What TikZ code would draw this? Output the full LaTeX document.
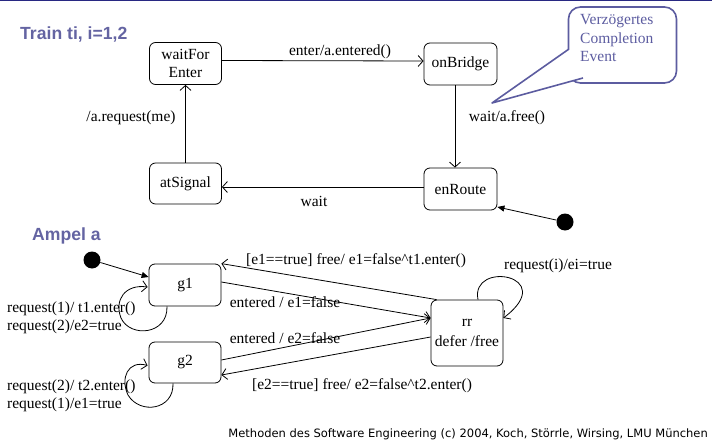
\documentclass[tikz,border=0pt]{standalone}
\usepackage{fontspec}
\setmainfont{Liberation Serif}
\newfontfamily\titlefont{Liberation Sans}
\newfontfamily\footfont{DejaVu Sans}
\usetikzlibrary{arrows.meta}
\definecolor{titlecol}{RGB}{100,100,162}
\definecolor{notecol}{RGB}{92,92,160}
\definecolor{topline}{RGB}{40,40,130}
\tikzset{
  statebox/.style={draw, rounded corners=6pt, line width=0.8pt, align=center, inner sep=0pt, font=\fontsize{15.5}{18}\selectfont},
  lbl/.style={inner sep=0pt, font=\fontsize{15.5}{18}\selectfont},
  lblleft/.style={lbl, anchor=west, align=left},
  trans/.style={line width=0.8pt, -{Straight Barb[length=5pt,width=11pt,line width=0.8pt]}},
  initarr/.style={line width=0.8pt, -{Triangle[length=7pt,width=6pt]}},
  initdot/.style={circle, fill=black, inner sep=0pt, minimum size=17pt},
  titletext/.style={inner sep=0pt, anchor=base west, text=titlecol, font=\titlefont\bfseries\fontsize{17.6}{20}\selectfont},
  notebox/.style={draw=notecol, line width=1.6pt, rounded corners=12pt, inner sep=0pt},
}
\begin{document}
\begin{tikzpicture}[x=1pt, y=-1pt]
\useasboundingbox (0,0) rectangle (712,444);
\fill[topline] (0,0) rectangle (712,1.5);

% titles
\node[titletext] (ttrain) at (20,40) {Train ti, i=1,2};
\node[titletext] (tampel) at (32,240) {Ampel a};

% Train states
\node[statebox, minimum width=72pt, minimum height=42pt] (wfe) at (185.5,63.5) {waitFor\\Enter};
\node[statebox, minimum width=73pt, minimum height=42pt] (onb) at (460.5,64) {onBridge};
\node[statebox, minimum width=72pt, minimum height=41pt] (ats) at (185.5,183.5) {atSignal};
\node[statebox, minimum width=73pt, minimum height=42pt] (enr) at (460.5,189) {enRoute};
\node[initdot] (i1) at (565,222) {};

\draw[trans] ([yshift=3pt]wfe.east) -- ([yshift=3pt]onb.west);
\draw[trans] ([xshift=-5.5pt]onb.south) -- ([xshift=-5.5pt]enr.north);
\draw[trans] ([yshift=2pt]enr.west) -- ([yshift=-3.5pt]ats.east);
\draw[trans] (ats.north) -- (wfe.south);
\draw[initarr] (i1) -- ([yshift=-18pt]enr.east);

\node[lbl] (l1) at (340,52) {enter/a.entered()};
\node[lbl] (l2) at (507,118) {wait/a.free()};
\node[lbl] (l3) at (314,201) {wait};
\node[lbl] (l4) at (131,118) {/a.request(me)};

% note
\node[notebox, minimum width=108pt, minimum height=76pt] (note) at (622.5,45) {};
\coordinate (tip) at (492,103);
\fill[white] (569.5,49) -- (tip) -- (583,78.5) -- cycle;
\draw[notecol, line width=1.6pt, line join=round] (569,49) -- (tip) -- (583,78);
\node[inner sep=0pt, anchor=north west, align=left, text=notecol, font=\fontsize{15.5}{18.8}\selectfont] (notetext) at (580,14) {Verzögertes\\Completion\\Event};

% Ampel states
\node[statebox, minimum width=72pt, minimum height=42pt] (g1) at (185,285) {g1};
\node[statebox, minimum width=72pt, minimum height=41pt] (g2) at (185,362.5) {g2};
\node[statebox, minimum width=72pt, minimum height=66pt, font=\fontsize{15.5}{20}\selectfont] (rr) at (467,333) {rr\\defer /free};
\node[initdot] (i2) at (92,260) {};

\draw[initarr] (i2) -- ([yshift=8pt]g1.west);
\draw[trans] ([xshift=6pt]rr.north west) -- (g1.north east);
\draw[trans] ([yshift=3pt]g1.east) -- ([yshift=15pt]rr.west);
\draw[trans] ([yshift=2.5pt]g2.east) -- ([yshift=15pt]rr.west);
\draw[trans] ([yshift=-4pt]rr.west) -- ([yshift=-12.5pt]g2.east);

% labels (drawn before loops so loops cross them as in the reference)
\node[lbl] (a1) at (356,261) {[e1==true] free/ e1=false\^{}t1.enter()};
\node[lbl] (a2) at (285,302) {entered / e1=false};
\node[lbl] (a3) at (285,338) {entered / e2=false};
\node[lbl] (a4) at (362,386) {[e2==true] free/ e2=false\^{}t2.enter()};
\node[lblleft] (a5) at (7,309) {request(1)/ t1.enter()};
\node[lblleft] (a6) at (7,327) {request(2)/e2=true};
\node[lblleft] (a7) at (7,387) {request(2)/ t2.enter()};
\node[lblleft] (a8) at (7,405) {request(1)/e1=true};
\node[lbl] (a9) at (558,266) {request(i)/ei=true};

% self loops
\draw[trans] ([xshift=-18pt]g1.south) .. controls (168,335) and (130,338) .. (121,318) .. controls (114,300) and (125,284) .. ([xshift=-1pt,yshift=-2pt]g1.west);
\draw[trans] ([xshift=-12pt]g2.south) .. controls (174,410) and (140,415) .. (128,395) .. controls (120,378) and (128,360) .. ([xshift=-1pt,yshift=-3pt]g2.west);
\draw[trans] ([xshift=11pt]rr.north) .. controls (470,260) and (560,275) .. ([yshift=15pt]rr.east);

% footer
\node[inner sep=0pt, anchor=base east, font=\footfont\fontsize{11.5}{13}\selectfont] (foot) at (708,437) {Methoden des Software Engineering (c) 2004, Koch, Störrle, Wirsing, LMU München};
\end{tikzpicture}
\end{document}
